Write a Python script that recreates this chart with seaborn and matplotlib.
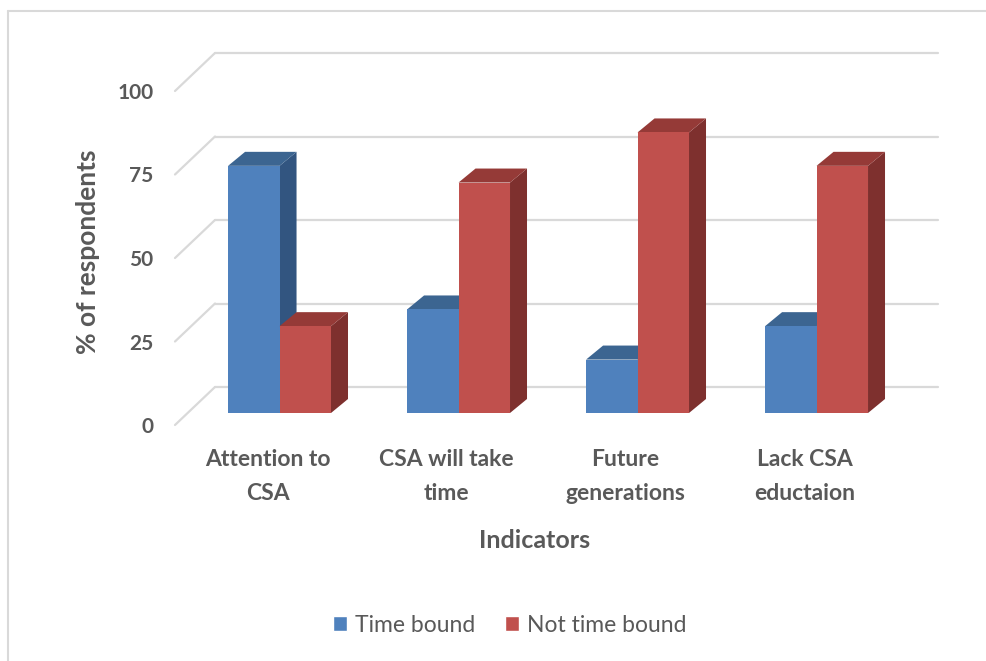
import numpy as np
import pandas as pd
import matplotlib
matplotlib.use("Agg")
import matplotlib.pyplot as plt
import seaborn as sns
from matplotlib.transforms import IdentityTransform, ScaledTranslation
from matplotlib.patches import Polygon, Patch
from matplotlib.lines import Line2D

# ---- data ----
categories = ["Attention to\nCSA", "CSA will take\ntime", "Future\ngenerations", "Lack CSA\neductaion"]
series_names = ["Time bound", "Not time bound"]
time_bound = [74, 31, 16, 26]
not_time_bound = [26, 69, 84, 74]
y_ticks = [0, 25, 50, 75, 100]

df = pd.DataFrame({
    "Indicator": categories * 2,
    "Group": [s for s in series_names for _ in categories],
    "Value": time_bound + not_time_bound,
})

# ---- style ----
BLUE, BLUE_TOP, BLUE_SIDE = "#4F81BD", "#3C6591", "#325580"
RED, RED_TOP, RED_SIDE = "#C0504D", "#953A37", "#7E302E"
GRID = "#D9D9D9"
TXT = "#595959"

sns.set_theme(style="white")
plt.rcParams["font.family"] = ["Lato", "DejaVu Sans"]

W, H = 987, 661
fig = plt.figure(figsize=(W / 100, H / 100), dpi=100)
ax = fig.add_axes([175 / W, (H - 413) / H, 723 / W, 334 / H])

sns.barplot(data=df, x="Indicator", y="Value", hue="Group", hue_order=series_names,
            palette=[BLUE, RED], width=0.575, gap=0, saturation=1,
            errorbar=None, legend=False, ax=ax)

ax.set_xlim(-0.584, 3.455)
ax.set_ylim(0, 100)
ax.autoscale(False)
for s in ax.spines.values():
    s.set_visible(False)
ax.set_facecolor("none")

# ticks
ax.set_yticks(y_ticks)
ax.tick_params(axis="both", length=0)
ax.tick_params(axis="y", labelsize=15, labelcolor=TXT, pad=15.5)
ax.tick_params(axis="x", labelsize=16.5, labelcolor=TXT, pad=26)
for lab in ax.get_yticklabels():
    lab.set_fontweight("bold")
    lab.set_transform(lab.get_transform() + ScaledTranslation(0, -12 / 100, fig.dpi_scale_trans))
for lab in ax.get_xticklabels():
    lab.set_fontweight("bold")
    lab.set_linespacing(1.75)
    lab.set_transform(lab.get_transform() + ScaledTranslation(-12 / 100, 0, fig.dpi_scale_trans))

ax.set_xlabel("Indicators", fontsize=18, fontweight="bold", color=TXT)
ax.xaxis.set_label_coords(0.498, -0.348)
ax.set_ylabel("% of respondents", fontsize=19, fontweight="bold", color=TXT)
ax.yaxis.set_label_coords(-0.104, 0.482)

# ---- walls / gridlines (pixel offsets from bar-front plane) ----
tD = ax.transData
x0 = ax.get_xlim()[0]
for v in y_ticks:
    px, py = tD.transform((x0, v))
    back_y = py + 26
    ax.add_line(Line2D([px + 40, px + 40 + 723], [back_y, back_y], color=GRID, lw=1.6,
                       transform=IdentityTransform(), zorder=0.5, clip_on=False))
    ax.add_line(Line2D([px, px + 40], [py - 12, back_y], color=GRID, lw=1.6,
                       transform=IdentityTransform(), zorder=0.5, clip_on=False))

# ---- 3D faces ----
DX, DY = 17, 14
shades = [(BLUE_TOP, BLUE_SIDE), (RED_TOP, RED_SIDE)]
for j, cont in enumerate(ax.containers):
    top_c, side_c = shades[j]
    base = 2 + 3 * j
    for bar in cont.patches:
        bar.set_zorder(base + 2)
        bar.set_edgecolor("none")
        bx0, by0 = bar.get_x(), bar.get_y()
        bx1, by1 = bx0 + bar.get_width(), by0 + bar.get_height()
        (X0, Y0), (X1, Y1) = tD.transform([(bx0, by0), (bx1, by1)])
        side = Polygon([(X1, Y0), (X1 + DX, Y0 + DY), (X1 + DX, Y1 + DY), (X1, Y1)],
                       closed=True, facecolor=side_c, edgecolor="none",
                       transform=IdentityTransform(), zorder=base, clip_on=False)
        top = Polygon([(X0, Y1), (X0 + DX, Y1 + DY), (X1 + DX, Y1 + DY), (X1, Y1)],
                      closed=True, facecolor=top_c, edgecolor="none",
                      transform=IdentityTransform(), zorder=base + 1, clip_on=False)
        ax.add_patch(side)
        ax.add_patch(top)
ax.set_xlim(-0.584, 3.455)
ax.set_ylim(0, 100)

# ---- legend ----
handles = [Patch(facecolor=BLUE, label=series_names[0]), Patch(facecolor=RED, label=series_names[1])]
ax.legend(handles=handles, loc="center", bbox_to_anchor=(510 / W, 1 - 625 / H),
          bbox_transform=fig.transFigure, ncol=2, frameon=False, fontsize=16.5,
          handlelength=0.6, handleheight=0.6, handletextpad=0.35, columnspacing=1.3,
          labelcolor=TXT)

# ---- chart frame (left/top visible) ----
fig.add_artist(Line2D([8 / W, 8 / W], [0, 1 - 11 / H], color=GRID, lw=1.5, transform=fig.transFigure))
fig.add_artist(Line2D([8 / W, 1], [1 - 11 / H, 1 - 11 / H], color=GRID, lw=1.5, transform=fig.transFigure))

fig.savefig("out.png", dpi=100)
